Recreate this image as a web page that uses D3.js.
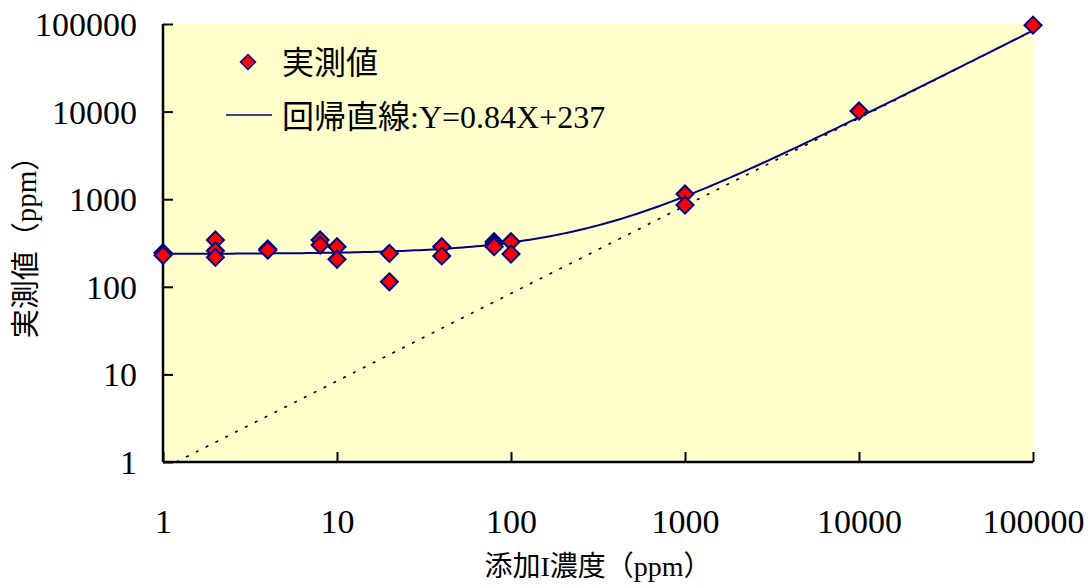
<!DOCTYPE html>
<html>
<head>
<meta charset="utf-8">
<script src="https://cdn.jsdelivr.net/npm/d3@7"></script>
<style>
  html, body { margin: 0; padding: 0; background: #fff; }
  svg { display: block; }
  text { font-family: "Liberation Serif", "Noto Sans CJK JP", serif; fill: #000; }
</style>
</head>
<body>
<svg id="chart" width="1088" height="585"></svg>
<script>
// Added concentration (ppm) for each measurement
const addedConc = [1, 1, 2, 2, 2, 4, 4, 8, 8, 10, 10, 20, 20, 40, 40, 80, 80, 80, 100, 100, 1000, 1000, 10000, 100000];
// Measured concentration (ppm)
const measured  = [245, 229, 342, 258, 217, 270, 262, 342, 300, 287, 206, 241, 114, 287, 225, 327, 308, 287, 327, 237, 1146, 859, 10160, 97000];

// Regression line Y = 0.84X + 237
const slope = 0.84;
const intercept = 237;

const tickValues = [1, 10, 100, 1000, 10000, 100000];
const xTitle = "添加I濃度（ppm）";
const yTitle = "実測値（ppm）";
const legendPoints = "実測値";
const legendLine = "回帰直線:Y=0.84X+237";

const svg = d3.select("#chart");
const plot = { left: 163, right: 1033, top: 24, bottom: 462 };

const x = d3.scaleLog().domain([1, 100000]).range([plot.left, plot.right]);
const y = d3.scaleLog().domain([1, 100000]).range([plot.bottom, plot.top]);

// Plot background
svg.append("rect")
  .attr("x", plot.left).attr("y", plot.top)
  .attr("width", plot.right - plot.left).attr("height", plot.bottom - plot.top)
  .attr("fill", "#FFFFCC");

const clipId = "plotClip";
svg.append("clipPath").attr("id", clipId)
  .append("rect")
  .attr("x", plot.left).attr("y", plot.top - 2)
  .attr("width", plot.right - plot.left + 2).attr("height", plot.bottom - plot.top + 2);

// Proportional reference line Y = 0.84X (dotted)
const xStart = 1 / slope;
const propLine = d3.range(0, 61).map(i => {
  const lx = Math.log10(xStart) + (5 - Math.log10(xStart)) * i / 60;
  const xv = Math.pow(10, lx);
  return [xv, slope * xv];
});
svg.append("path")
  .datum(propLine)
  .attr("clip-path", `url(#${clipId})`)
  .attr("fill", "none")
  .attr("stroke", "#000")
  .attr("stroke-width", 1.6)
  .attr("stroke-dasharray", "3,8")
  .attr("d", d3.line().x(d => x(d[0])).y(d => y(d[1])));

// Regression curve on log axes
const regLine = d3.range(0, 201).map(i => {
  const xv = Math.pow(10, 5 * i / 200);
  return [xv, slope * xv + intercept];
});
svg.append("path")
  .datum(regLine)
  .attr("fill", "none")
  .attr("stroke", "#000080")
  .attr("stroke-width", 2)
  .attr("d", d3.line().x(d => x(d[0])).y(d => y(d[1])));

// Axes with inward ticks
const xAxis = d3.axisBottom(x).tickValues(tickValues).tickSize(-10).tickPadding(47)
  .tickFormat(d3.format("d"));
const yAxis = d3.axisLeft(y).tickValues(tickValues).tickSize(-10).tickPadding(26)
  .tickFormat(d3.format("d"));

const gx = svg.append("g").attr("transform", `translate(0,${plot.bottom})`).call(xAxis);
const gy = svg.append("g").attr("transform", `translate(${plot.left},0)`).call(yAxis);
[gx, gy].forEach(g => {
  g.select(".domain").attr("stroke", "#000").attr("stroke-width", 2.5);
  g.selectAll(".tick line").attr("stroke", "#000").attr("stroke-width", 2);
  g.selectAll(".tick text")
    .style("font-family", "'Liberation Serif', serif")
    .style("font-size", "34px")
    .attr("fill", "#000");
});
gy.select(".domain").attr("d", `M0,${plot.top}V${plot.bottom}`);
gx.select(".domain").attr("d", `M${plot.left},0H${plot.right}`);
gy.selectAll(".tick text").attr("dy", "0.34em");
gx.selectAll(".tick text").attr("dy", "0.71em");

// Diamond markers
const diamond = (cx, cy, r) => `M${cx},${cy - r}L${cx + r},${cy}L${cx},${cy + r}L${cx - r},${cy}Z`;
svg.append("g")
  .selectAll("path")
  .data(addedConc.map((d, i) => [d, measured[i]]))
  .join("path")
  .attr("d", d => diamond(x(d[0]), y(d[1]), 8.5))
  .attr("fill", "#FF0000")
  .attr("stroke", "#000080")
  .attr("stroke-width", 2);

// Legend
const legend = svg.append("g");
legend.append("path")
  .attr("d", diamond(248, 62, 7.5))
  .attr("fill", "#FF0000").attr("stroke", "#000080").attr("stroke-width", 1.5);
legend.append("text")
  .attr("x", 282).attr("y", 62).attr("dy", "0.36em")
  .style("font-size", "32px")
  .text(legendPoints);
legend.append("line")
  .attr("x1", 226).attr("x2", 272).attr("y1", 115).attr("y2", 115)
  .attr("stroke", "#000080").attr("stroke-width", 1.5);
legend.append("text")
  .attr("x", 282).attr("y", 116).attr("dy", "0.36em")
  .style("font-size", "32px")
  .text(legendLine);

// Axis titles
svg.append("text")
  .attr("x", 598).attr("y", 566).attr("dy", "0.36em")
  .attr("text-anchor", "middle")
  .style("font-size", "28px")
  .text(xTitle);
svg.append("text")
  .attr("transform", "translate(26,240) rotate(-90)")
  .attr("dy", "0.36em")
  .attr("text-anchor", "middle")
  .style("font-size", "29px")
  .text(yTitle);
</script>
</body>
</html>
